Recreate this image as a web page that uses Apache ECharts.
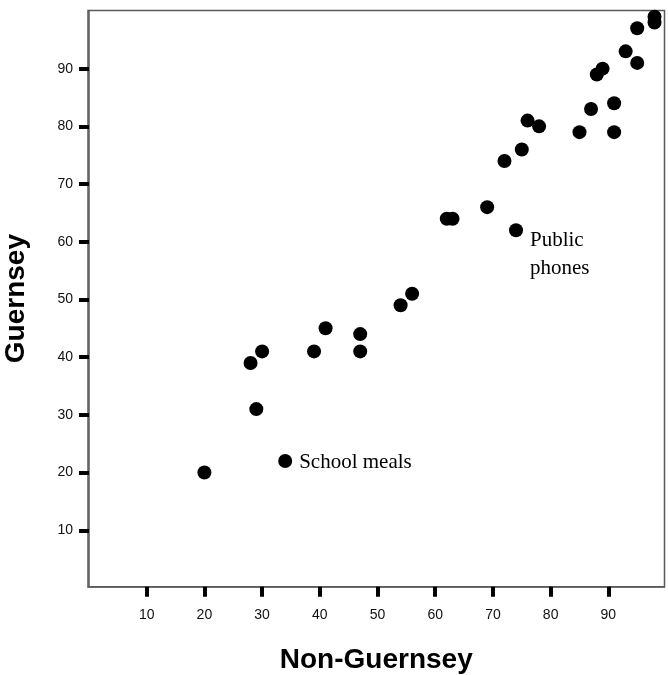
<!DOCTYPE html>
<html>
<head>
<meta charset="utf-8">
<script src="https://cdn.jsdelivr.net/npm/echarts@6/dist/echarts.min.js"></script>
<style>
  html, body { margin: 0; padding: 0; background: #fff; }
  #chart { width: 668px; height: 675px; }
</style>
</head>
<body>
<div id="chart"></div>
<script>
// Percentage figures for 30 services: rest of UK (x) vs Guernsey (y)
const nonGuernsey = [20, 34, 29, 28, 30, 39, 41, 47, 47, 54, 56, 62, 63, 69, 74,
                     72, 75, 76, 78, 85, 91, 91, 87, 88, 89, 93, 95, 95, 98, 98];
const guernsey    = [20, 22, 31, 39, 41, 41, 45, 41, 44, 49, 51, 64, 64, 66, 62,
                     74, 76, 81, 80, 79, 79, 84, 83, 89, 90, 93, 91, 97, 99, 98];
// Annotated outliers (index into the arrays above)
const pointLabels = { 1: 'School meals', 14: 'Public\nphones' };
const tickValues = [10, 20, 30, 40, 50, 60, 70, 80, 90];

const labelFont = {
  fontFamily: '"Liberation Serif", "Times New Roman", serif',
  fontSize: 21,
  color: '#000'
};

const points = nonGuernsey.map((x, i) => {
  const item = { value: [x, guernsey[i]] };
  if (pointLabels[i]) {
    item.label = Object.assign({
      show: true,
      formatter: pointLabels[i],
      position: 'right',
      distance: 7,
      lineHeight: 28,
      offset: i === 14 ? [0, 24] : [0, 1]
    }, labelFont);
  }
  return item;
});

const axisCommon = {
  type: 'value',
  nameLocation: 'middle',
  nameTextStyle: {
    fontFamily: '"Liberation Sans", Arial, sans-serif',
    fontWeight: 'bold',
    fontSize: 28,
    color: '#000'
  },
  splitLine: { show: false },
  axisLine: { show: true, lineStyle: { color: '#5a5a5a', width: 1.5 } },
  axisTick: {
    show: true,
    customValues: tickValues,
    length: 10,
    lineStyle: { color: '#000', width: 4 }
  },
  axisLabel: {
    customValues: tickValues,
    fontFamily: '"Liberation Sans", Arial, sans-serif',
    fontSize: 14,
    color: '#111'
  }
};

const chart = echarts.init(document.getElementById('chart'), null, { renderer: 'canvas' });
chart.setOption({
  animation: false,
  backgroundColor: '#fff',
  grid: {
    left: 88, top: 10.5, right: 3.5, bottom: 88.3,
    containLabel: false,
    outerBoundsMode: 'none',
    show: true,
    borderColor: '#5a5a5a',
    borderWidth: 1.5,
    backgroundColor: 'transparent'
  },
  xAxis: Object.assign({}, axisCommon, {
    name: 'Non-Guernsey',
    nameGap: 60,
    min: -0.17,
    max: 99.73,
    axisLabel: Object.assign({}, axisCommon.axisLabel, { margin: 21 })
  }),
  yAxis: Object.assign({}, axisCommon, {
    name: 'Guernsey',
    nameGap: 58,
    min: 0.22,
    max: 100.08,
    axisLabel: Object.assign({}, axisCommon.axisLabel, { margin: 15 })
  }),
  series: [{
    type: 'scatter',
    symbol: 'circle',
    symbolSize: 14,
    itemStyle: { color: '#000', opacity: 1 },
    data: points
  }]
});
</script>
</body>
</html>
